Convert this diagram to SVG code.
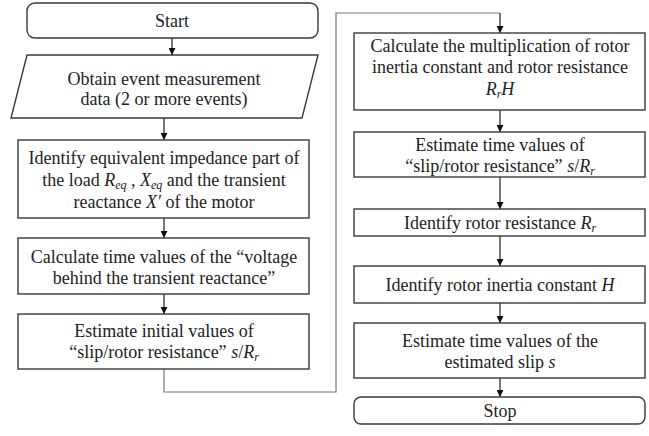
<svg xmlns="http://www.w3.org/2000/svg" width="649" height="436" viewBox="0 0 649 436">
<defs>
<marker id="ah" viewBox="0 0 10 10" refX="10" refY="5" markerWidth="7" markerHeight="7" markerUnits="userSpaceOnUse" orient="auto">
<path d="M0,0 L10,5 L0,10 z" fill="#111"/>
</marker>
<style>
.box{fill:#fff;stroke:#3a3a3a;stroke-width:1.4}
.t{font-family:'Liberation Serif','DejaVu Serif',serif;font-size:18px;fill:#222;text-anchor:middle}
.i{font-style:italic}
.sub{font-size:12px;font-style:italic}
.c{fill:none;stroke:#222;stroke-width:1.2}
.cg{fill:none;stroke:#777;stroke-width:1.2}
</style>
</defs>
<rect width="649" height="436" fill="#fff"/>
<g id="connectors">
<line class="c" x1="172" y1="38" x2="172" y2="55" marker-end="url(#ah)"/>
<line class="c" x1="164" y1="118" x2="164" y2="140" marker-end="url(#ah)"/>
<line class="c" x1="164" y1="218" x2="164" y2="238" marker-end="url(#ah)"/>
<line class="c" x1="164" y1="294" x2="164" y2="314" marker-end="url(#ah)"/>
<polyline class="cg" points="164,369 164,392 336,392 336,13 500,13"/>
<line class="c" x1="500" y1="13" x2="500" y2="33" marker-end="url(#ah)"/>
<line class="c" x1="500" y1="110" x2="500" y2="132" marker-end="url(#ah)"/>
<line class="c" x1="500" y1="177" x2="500" y2="209" marker-end="url(#ah)"/>
<line class="c" x1="500" y1="236" x2="500" y2="266" marker-end="url(#ah)"/>
<line class="c" x1="500" y1="303" x2="500" y2="323" marker-end="url(#ah)"/>
<line class="c" x1="500" y1="378" x2="500" y2="397" marker-end="url(#ah)"/>
</g>
<g id="start">
<rect class="box" x="27" y="3" width="291" height="35" rx="8"/>
<text class="t" x="172" y="27">Start</text>
</g>
<g id="obtain">
<polygon class="box" points="27,55 318,55 302,118 11,118"/>
<text class="t" x="164" y="85">Obtain event measurement</text>
<text class="t" x="164" y="105">data (2 or more events)</text>
</g>
<g id="identify-impedance">
<rect class="box" x="18" y="140" width="291" height="78"/>
<text class="t" x="164" y="164">Identify equivalent impedance part of</text>
<text class="t" x="164" y="186">the load <tspan class="i">R</tspan><tspan class="sub" dy="3">eq</tspan><tspan dy="-3"> , </tspan><tspan class="i">X</tspan><tspan class="sub" dy="3">eq</tspan><tspan dy="-3">  and the transient</tspan></text>
<text class="t" x="164" y="208">reactance <tspan class="i">X′</tspan> of the motor</text>
</g>
<g id="calc-voltage">
<rect class="box" x="18" y="238" width="291" height="56"/>
<text class="t" x="164" y="263">Calculate time values of the “voltage</text>
<text class="t" x="164" y="284">behind the transient reactance”</text>
</g>
<g id="estimate-initial">
<rect class="box" x="18" y="314" width="291" height="55"/>
<text class="t" x="164" y="337">Estimate initial values of</text>
<text class="t" x="164" y="358">“slip/rotor resistance” <tspan class="i">s</tspan>/<tspan class="i">R</tspan><tspan class="sub" dy="3">r</tspan></text>
</g>
<g id="calc-rh">
<rect class="box" x="354" y="33" width="291" height="77"/>
<text class="t" x="500" y="52">Calculate the multiplication of rotor</text>
<text class="t" x="500" y="73">inertia constant and rotor resistance</text>
<text class="t" x="500" y="95"><tspan class="i">R</tspan><tspan class="sub" dy="3">r</tspan><tspan class="i" dy="-3">H</tspan></text>
</g>
<g id="estimate-time">
<rect class="box" x="354" y="132" width="291" height="45"/>
<text class="t" x="500" y="151">Estimate time values of</text>
<text class="t" x="500" y="172">“slip/rotor resistance” <tspan class="i">s</tspan>/<tspan class="i">R</tspan><tspan class="sub" dy="3">r</tspan></text>
</g>
<g id="identify-rr">
<rect class="box" x="354" y="209" width="291" height="27"/>
<text class="t" x="500" y="229">Identify rotor resistance <tspan class="i">R</tspan><tspan class="sub" dy="3">r</tspan></text>
</g>
<g id="identify-h">
<rect class="box" x="354" y="266" width="291" height="37"/>
<text class="t" x="500" y="291">Identify rotor inertia constant <tspan class="i">H</tspan></text>
</g>
<g id="estimate-slip">
<rect class="box" x="354" y="323" width="291" height="55"/>
<text class="t" x="500" y="347">Estimate time values of the</text>
<text class="t" x="500" y="368">estimated slip <tspan class="i">s</tspan></text>
</g>
<g id="stop">
<rect class="box" x="354" y="397" width="291" height="27" rx="7"/>
<text class="t" x="500" y="417">Stop</text>
</g>
</svg>
